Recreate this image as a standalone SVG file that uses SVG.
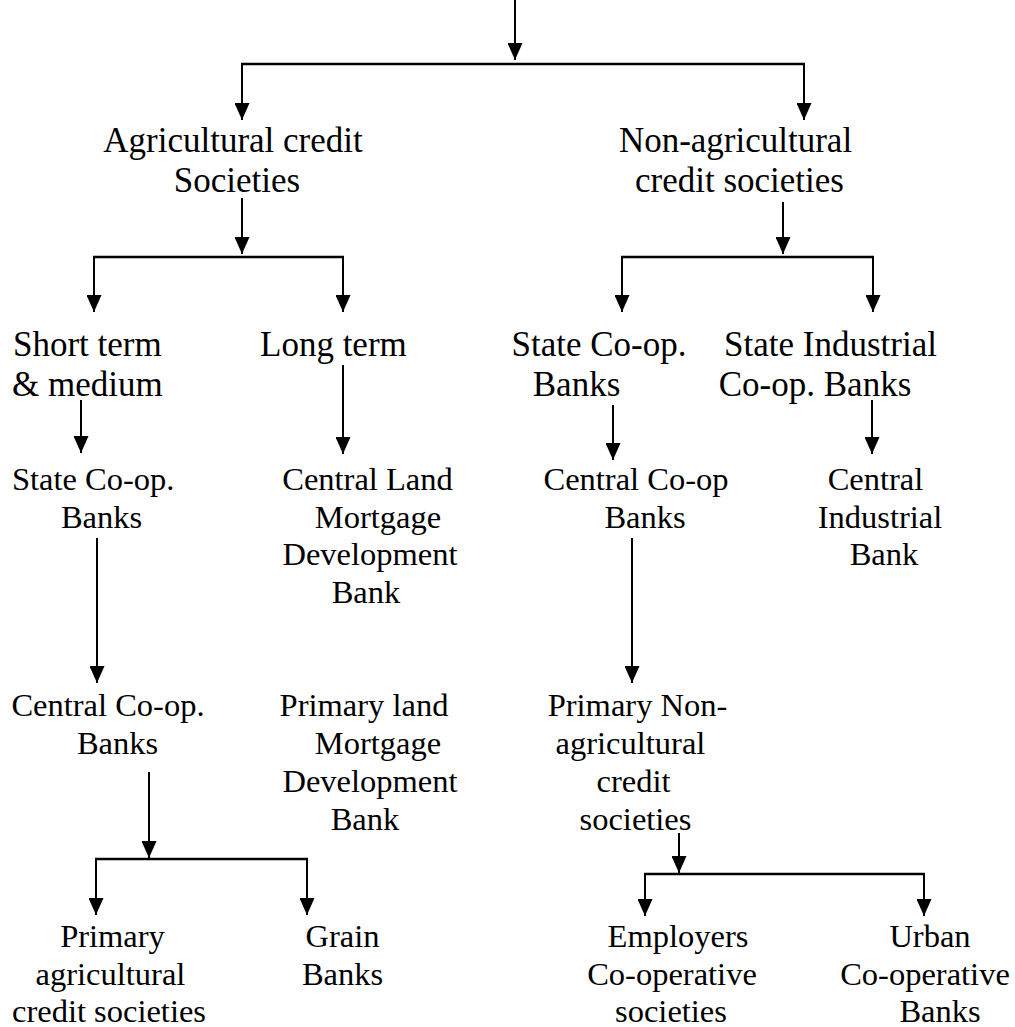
<svg xmlns="http://www.w3.org/2000/svg" width="1015" height="1027" viewBox="0 0 1015 1027">
<style>
text{font-family:"Liberation Serif","Times New Roman",serif;fill:#000;text-anchor:middle}
.l1{font-size:35px}
.l3{font-size:32.5px}
.st{text-anchor:start}
.c line{stroke:#000;stroke-width:2}
.c line.b{stroke-width:2.5}
.c line.a{marker-end:url(#ah)}
</style>
<defs>
<marker id="ah" markerUnits="userSpaceOnUse" markerWidth="17" markerHeight="15" viewBox="0 0 17 15" refX="17" refY="7.5" orient="auto">
<path d="M0,0 L17,7.5 L0,15 z" fill="#000"/>
</marker>
</defs>
<rect width="1015" height="1027" fill="#fff"/>
<g class="c" id="connectors">
<line class="a" x1="515" y1="0" x2="515" y2="60"/>
<line class="b" x1="241" y1="64" x2="805" y2="64"/>
<line class="a" x1="242" y1="63" x2="242" y2="120"/>
<line class="a" x1="804" y1="63" x2="804" y2="120"/>
<line class="a" x1="242" y1="198" x2="242" y2="254"/>
<line class="b" x1="93" y1="257" x2="344" y2="257"/>
<line class="a" x1="94" y1="256" x2="94" y2="312"/>
<line class="a" x1="343" y1="256" x2="343" y2="312"/>
<line class="a" x1="783" y1="202" x2="783" y2="254"/>
<line class="b" x1="621" y1="257" x2="874" y2="257"/>
<line class="a" x1="622" y1="256" x2="622" y2="312"/>
<line class="a" x1="873" y1="256" x2="873" y2="312"/>
<line class="a" x1="81" y1="400" x2="81" y2="453"/>
<line class="a" x1="343" y1="365" x2="343" y2="454"/>
<line class="a" x1="613" y1="405" x2="613" y2="460"/>
<line class="a" x1="872" y1="400" x2="872" y2="454"/>
<line class="a" x1="97" y1="538" x2="97" y2="683"/>
<line class="a" x1="632" y1="538" x2="632" y2="683"/>
<line class="a" x1="149" y1="772" x2="149" y2="858"/>
<line class="b" x1="95" y1="859" x2="308" y2="859"/>
<line class="a" x1="96" y1="858" x2="96" y2="915"/>
<line class="a" x1="307" y1="858" x2="307" y2="915"/>
<line class="a" x1="679" y1="833" x2="679" y2="873"/>
<line class="b" x1="644" y1="874" x2="925" y2="874"/>
<line class="a" x1="645" y1="873" x2="645" y2="916"/>
<line class="a" x1="924" y1="873" x2="924" y2="916"/>
</g>
<g id="agri">
<text class="l1" x="233" y="152">Agricultural credit</text>
<text class="l1" x="237" y="192">Societies</text>
</g>
<g id="nonagri">
<text class="l1" x="735.5" y="152">Non-agricultural</text>
<text class="l1" x="739.5" y="192">credit societies</text>
</g>
<g id="short">
<text class="l1 st" x="13" y="356">Short term</text>
<text class="l1 st" x="12" y="396">&amp; medium</text>
</g>
<g id="long">
<text class="l1 st" x="260" y="356">Long term</text>
</g>
<g id="stateco2">
<text class="l1" x="599" y="356">State Co-op.</text>
<text class="l1" x="576.5" y="396">Banks</text>
</g>
<g id="stateind">
<text class="l1" x="830.5" y="356">State Industrial</text>
<text class="l1" x="815" y="396">Co-op. Banks</text>
</g>
<g id="stateco1">
<text class="l3 st" x="12" y="490">State Co-op.</text>
<text class="l3" x="101.5" y="527.5">Banks</text>
</g>
<g id="centralland">
<text class="l3" x="367.5" y="490">Central Land</text>
<text class="l3" x="378" y="527.5">Mortgage</text>
<text class="l3" x="370" y="565">Development</text>
<text class="l3" x="366" y="602.5">Bank</text>
</g>
<g id="centralco2">
<text class="l3" x="636" y="490">Central Co-op</text>
<text class="l3" x="645" y="527.5">Banks</text>
</g>
<g id="centralind">
<text class="l3" x="875.5" y="490">Central</text>
<text class="l3" x="880" y="527.5">Industrial</text>
<text class="l3" x="884" y="565">Bank</text>
</g>
<g id="centralco1">
<text class="l3" x="108" y="716">Central Co-op.</text>
<text class="l3" x="117.5" y="754">Banks</text>
</g>
<g id="primaryland">
<text class="l3" x="364" y="716">Primary land</text>
<text class="l3" x="378" y="754">Mortgage</text>
<text class="l3" x="370" y="792">Development</text>
<text class="l3" x="365" y="830">Bank</text>
</g>
<g id="primarynonagri">
<text class="l3" x="637.5" y="716">Primary Non-</text>
<text class="l3" x="630.5" y="754">agricultural</text>
<text class="l3" x="633.5" y="792">credit</text>
<text class="l3" x="635.5" y="830">societies</text>
</g>
<g id="primaryagri">
<text class="l3" x="112.5" y="947">Primary</text>
<text class="l3" x="110.5" y="985">agricultural</text>
<text class="l3" x="109" y="1022">credit societies</text>
</g>
<g id="grain">
<text class="l3" x="342.5" y="947">Grain</text>
<text class="l3" x="342.5" y="985">Banks</text>
</g>
<g id="employers">
<text class="l3" x="678" y="947">Employers</text>
<text class="l3" x="672" y="985">Co-operative</text>
<text class="l3" x="671" y="1022">societies</text>
</g>
<g id="urban">
<text class="l3" x="930" y="947">Urban</text>
<text class="l3" x="925" y="985">Co-operative</text>
<text class="l3" x="940" y="1022">Banks</text>
</g>
</svg>
